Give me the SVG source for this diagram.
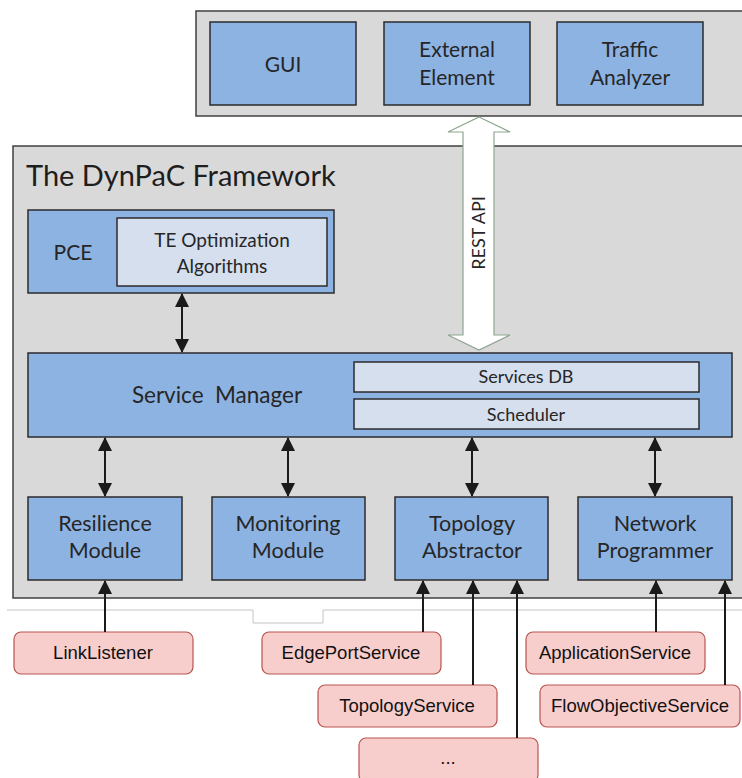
<svg xmlns="http://www.w3.org/2000/svg" width="742" height="778" viewBox="0 0 742 778">
<style>
.frame{fill:#d9d9d9;stroke:#404040;stroke-width:1.5}
.blue{fill:#8db3e2;stroke:#2b2b2b;stroke-width:1.5}
.light{fill:#d5dfee;stroke:#2b2b2b;stroke-width:1.5}
.pink{fill:#f8cecc;stroke:#b85450;stroke-width:1.2}
.t{font-family:Lato,"Open Sans",sans-serif;fill:#262626;text-anchor:middle}
.p{font-family:"Liberation Sans",Arial,sans-serif;fill:#111;text-anchor:middle;font-size:18.5px}
.c{stroke:#1a1a1a;stroke-width:2;fill:none}
</style>
<defs>
<marker id="ah" markerUnits="userSpaceOnUse" markerWidth="14" markerHeight="14" viewBox="0 0 14 14" refX="13" refY="7" orient="auto-start-reverse">
<path d="M0,0 L14,7 L0,14 Z" fill="#1a1a1a"/>
</marker>
</defs>
<rect width="742" height="778" fill="#ffffff"/>
<g id="external">
<rect class="frame" x="196" y="11" width="560" height="105"/>
</g>
<g id="gui"><rect class="blue" x="210" y="22" width="146" height="83"/><text class="t" x="283" y="72" font-size="21">GUI</text></g>
<g id="external-element"><rect class="blue" x="384" y="22" width="146" height="83"/><text class="t" x="457" y="57" font-size="21">External</text><text class="t" x="457" y="85" font-size="21">Element</text></g>
<g id="traffic-analyzer"><rect class="blue" x="557" y="22" width="146" height="83"/><text class="t" x="630" y="57" font-size="21">Traffic</text><text class="t" x="630" y="85" font-size="21">Analyzer</text></g>
<g id="framework">
<rect class="frame" x="13" y="146" width="740" height="452"/>
<text x="26" y="186" font-family="Lato,'Open Sans',sans-serif" font-size="29" fill="#1e1e1e">The DynPaC Framework</text>
</g>
<g id="pce">
<rect class="blue" x="28" y="210" width="306" height="83"/>
<text class="t" x="73" y="260" font-size="21">PCE</text>
<rect class="light" x="117" y="218" width="210" height="68"/>
<text class="t" x="222" y="247" font-size="19">TE Optimization</text>
<text class="t" x="222" y="273" font-size="19">Algorithms</text>
</g>
<g id="service-manager">
<rect class="blue" x="28" y="353" width="704" height="84"/>
<text class="t" x="217" y="403" font-size="22.5" xml:space="preserve">Service  Manager</text>
<rect class="light" x="354" y="362" width="345" height="30"/>
<text class="t" x="526" y="383" font-size="18">Services DB</text>
<rect class="light" x="354" y="399" width="345" height="30"/>
<text class="t" x="526" y="421" font-size="18">Scheduler</text>
</g>
<g id="resilience"><rect class="blue" x="28" y="497" width="154" height="83"/><text class="t" x="105" y="531" font-size="21.5">Resilience</text><text class="t" x="105" y="558" font-size="21.5">Module</text></g>
<g id="monitoring"><rect class="blue" x="212" y="497" width="153" height="83"/><text class="t" x="288" y="531" font-size="21.5">Monitoring</text><text class="t" x="288" y="558" font-size="21.5">Module</text></g>
<g id="topology"><rect class="blue" x="395" y="497" width="153" height="83"/><text class="t" x="472" y="531" font-size="21.5">Topology</text><text class="t" x="472" y="558" font-size="21.5">Abstractor</text></g>
<g id="network"><rect class="blue" x="578" y="497" width="154" height="83"/><text class="t" x="655" y="531" font-size="21.5">Network</text><text class="t" x="655" y="558" font-size="21.5">Programmer</text></g>
<g id="rest-api">
<path d="M479,117 L510,132 L494,132 L494,335 L510,335 L479,350 L448,335 L463,335 L463,132 L448,132 Z" fill="#ffffff" stroke="#8fa58f" stroke-width="1.2"/>
<text class="t" x="0" y="0" font-size="18" transform="translate(485,233) rotate(-90)">REST API</text>
</g>
<path d="M7,610 L253,610 L253,623 L323,623 L323,610 L742,610" fill="none" stroke="#c4c4c4" stroke-width="1"/>
<g id="linklistener"><rect class="pink" x="14" y="632" width="179" height="42" rx="7"/><text class="p" x="103" y="659">LinkListener</text></g>
<g id="edgeportservice"><rect class="pink" x="262" y="632" width="179" height="42" rx="7"/><text class="p" x="351" y="659">EdgePortService</text></g>
<g id="topologyservice"><rect class="pink" x="318" y="685" width="179" height="42" rx="7"/><text class="p" x="407" y="712">TopologyService</text></g>
<g id="more"><rect class="pink" x="359" y="738" width="179" height="44" rx="7"/><text class="p" x="448" y="764">...</text></g>
<g id="applicationservice"><rect class="pink" x="526" y="632" width="179" height="42" rx="7"/><text class="p" x="615" y="659">ApplicationService</text></g>
<g id="flowobjectiveservice"><rect class="pink" x="540" y="685" width="200" height="42" rx="7"/><text class="p" x="640" y="712">FlowObjectiveService</text></g>
<g id="connectors">
<line class="c" x1="182" y1="294" x2="182" y2="352" marker-start="url(#ah)" marker-end="url(#ah)"/>
<line class="c" x1="105" y1="438" x2="105" y2="496" marker-start="url(#ah)" marker-end="url(#ah)"/>
<line class="c" x1="288" y1="438" x2="288" y2="496" marker-start="url(#ah)" marker-end="url(#ah)"/>
<line class="c" x1="472" y1="438" x2="472" y2="496" marker-start="url(#ah)" marker-end="url(#ah)"/>
<line class="c" x1="655" y1="438" x2="655" y2="496" marker-start="url(#ah)" marker-end="url(#ah)"/>
<line class="c" x1="105" y1="632" x2="105" y2="581" marker-end="url(#ah)"/>
<line class="c" x1="423" y1="632" x2="423" y2="581" marker-end="url(#ah)"/>
<line class="c" x1="473" y1="685" x2="473" y2="581" marker-end="url(#ah)"/>
<line class="c" x1="517" y1="738" x2="517" y2="581" marker-end="url(#ah)"/>
<line class="c" x1="656" y1="632" x2="656" y2="581" marker-end="url(#ah)"/>
<line class="c" x1="725" y1="685" x2="725" y2="581" marker-end="url(#ah)"/>
</g>
</svg>
